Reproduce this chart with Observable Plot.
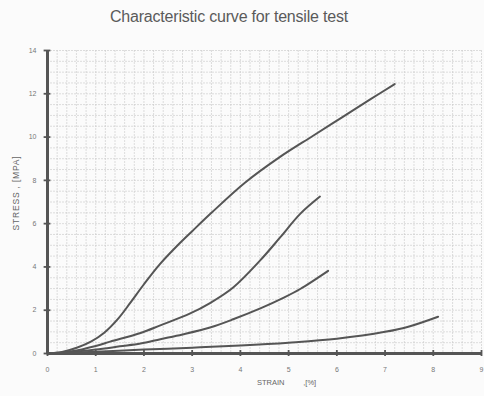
<!DOCTYPE html>
<html>
<head>
<meta charset="utf-8">
<script src="https://cdn.jsdelivr.net/npm/d3@7"></script>
<script src="https://cdn.jsdelivr.net/npm/@observablehq/plot@0.6"></script>
<style>
  html, body { margin: 0; padding: 0; background: #fbfbfb; }
  #wrap { position: relative; width: 484px; height: 396px; font-family: "Liberation Sans", Arial, sans-serif; }
  #title { position: absolute; left: 0; top: 8px; width: 458px; text-align: center; font-size: 16px; color: #5a5a5a; letter-spacing: -0.2px; }
  #ylab { position: absolute; left: 16px; top: 193px; font-size: 8.5px; color: #666; transform: translate(-50%, -50%) rotate(-90deg); white-space: nowrap; letter-spacing: 0.8px; }
  #xlab { position: absolute; left: 257px; top: 378px; font-size: 7.5px; color: #666; white-space: pre; }
  #chart { position: absolute; left: 0; top: 40px; }
</style>
</head>
<body>
<div id="wrap">
  <div id="title">Characteristic curve for tensile test</div>
  <div id="ylab">STRESS , [MPA]</div>
  <div id="xlab">STRAIN         ,[%]</div>
  <div id="chart"></div>
</div>
<script>
const xTicks = [0, 1, 2, 3, 4, 5, 6, 7, 8, 9];
const yTicks = [0, 2, 4, 6, 8, 10, 12, 14];

const curveA_x = [0, 0.3, 0.62, 0.9, 1.17, 1.48, 1.72, 2.0, 2.34, 2.7, 3.0, 3.4, 4.1, 4.8, 5.5, 6.1, 6.7, 7.2];
const curveA_y = [0, 0.07, 0.28, 0.55, 0.95, 1.65, 2.35, 3.2, 4.15, 5.0, 5.65, 6.5, 7.9, 9.05, 10.05, 10.9, 11.75, 12.45];

const curveB_x = [0, 0.5, 1, 1.3, 1.93, 2.34, 2.96, 3.37, 3.85, 4.41, 4.82, 5.24, 5.65];
const curveB_y = [0, 0.1, 0.35, 0.55, 0.95, 1.3, 1.85, 2.33, 3.05, 4.3, 5.35, 6.45, 7.25];

const curveC_x = [0, 0.5, 1, 1.5, 1.93, 2.34, 2.8, 3.37, 3.85, 4.45, 4.89, 5.24, 5.82];
const curveC_y = [0, 0.06, 0.18, 0.33, 0.46, 0.66, 0.88, 1.2, 1.58, 2.12, 2.57, 2.98, 3.82];

const curveD_x = [0, 1, 2, 3, 4, 5, 6, 7, 7.5, 8.1];
const curveD_y = [0, 0.08, 0.18, 0.27, 0.37, 0.5, 0.68, 1.0, 1.25, 1.7];

const series = [
  {name: "A", xs: curveA_x, ys: curveA_y},
  {name: "B", xs: curveB_x, ys: curveB_y},
  {name: "C", xs: curveC_x, ys: curveC_y},
  {name: "D", xs: curveD_x, ys: curveD_y}
];
const rows = series.flatMap(s => s.xs.map((x, i) => ({series: s.name, x, y: s.ys[i]})));

const gridX = d3.range(0, 9.001, 0.2);
const gridY = d3.range(0, 14.001, 0.5);
const ink = "#555";

const chart = Plot.plot({
  width: 484,
  height: 356,
  marginLeft: 47,
  marginRight: 3,
  marginTop: 10,
  marginBottom: 43,
  style: {fontFamily: "Liberation Sans, Arial, sans-serif", background: "transparent", color: "#777"},
  x: {domain: [0, 9], label: null},
  y: {domain: [0, 14], label: null},
  marks: [
    Plot.ruleX(gridX, {stroke: "#c8c8c8", strokeWidth: 0.6, strokeDasharray: "2,1"}),
    Plot.ruleY(gridY, {stroke: "#c8c8c8", strokeWidth: 0.6, strokeDasharray: "2,1"}),
    Plot.axisX({ticks: xTicks, tickSize: 0, tickPadding: 14, fontSize: 7, tickFormat: d => d, label: null}),
    Plot.axisY({ticks: yTicks, tickSize: 0, tickPadding: 11, fontSize: 7, tickFormat: d => d, label: null}),
    Plot.line(rows, {x: "x", y: "y", z: "series", stroke: ink, strokeWidth: 2, curve: "catmull-rom"}),
    Plot.ruleY([0], {stroke: ink, strokeWidth: 3}),
    Plot.ruleX([0], {stroke: ink, strokeWidth: 3}),
    Plot.ruleX(xTicks, {y1: -0.14, y2: 0.14, stroke: ink, strokeWidth: 1.8}),
    Plot.ruleY(yTicks, {x1: -0.07, x2: 0.07, stroke: ink, strokeWidth: 1.8})
  ]
});
document.getElementById("chart").appendChild(chart);
</script>
</body>
</html>
